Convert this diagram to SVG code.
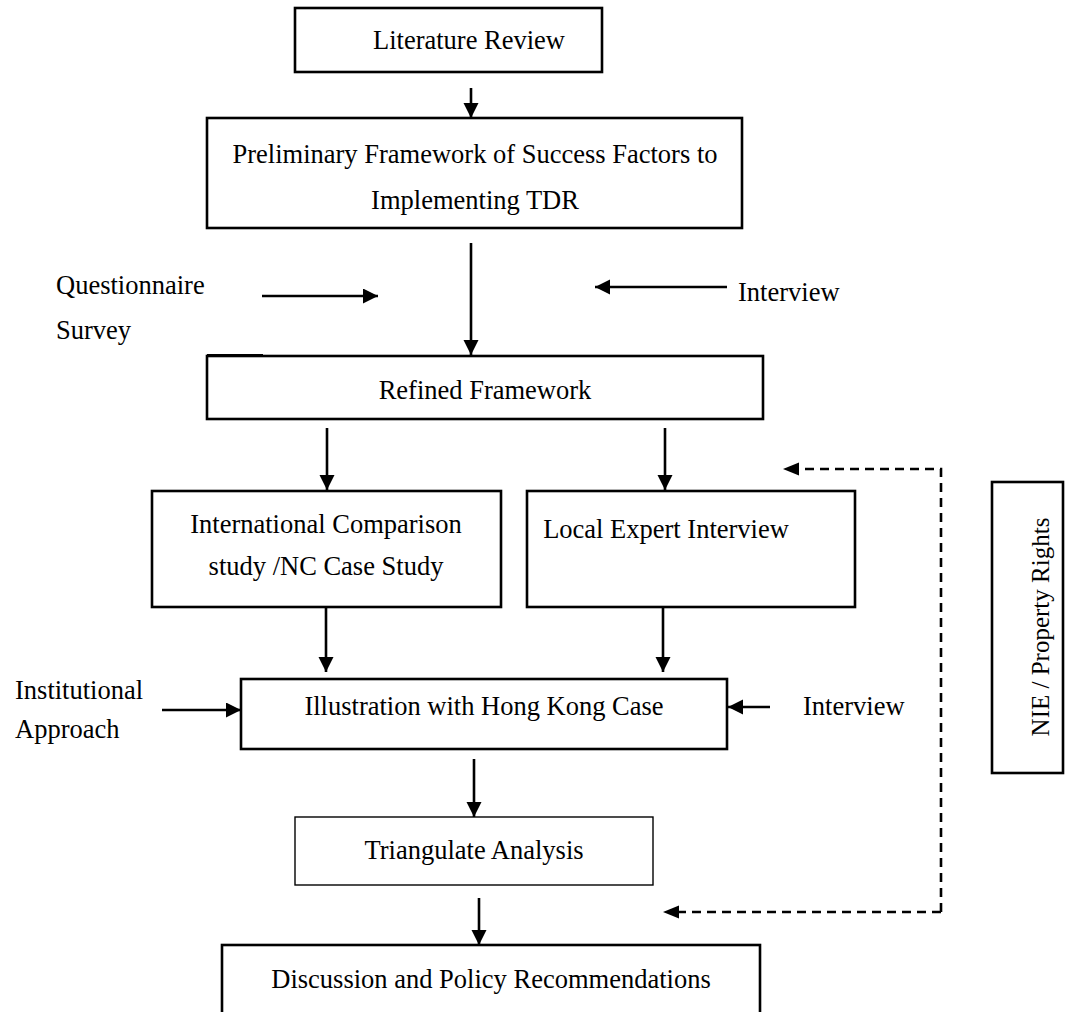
<svg xmlns="http://www.w3.org/2000/svg" width="1065" height="1012" viewBox="0 0 1065 1012">
  <defs>
    <marker id="head" markerUnits="userSpaceOnUse" markerWidth="16" markerHeight="16" refX="15" refY="7.5" orient="auto">
      <path d="M0,0 L15,7.5 L0,15 z" fill="#000"/>
    </marker>
    <style>
      .box { fill: #fff; stroke: #000; stroke-width: 2.6; }
      .thin { fill: #fff; stroke: #000; stroke-width: 1.4; }
      .lbl { font-family: "Liberation Serif", "Times New Roman", serif; font-size: 26.5px; fill: #000; }
      .mid { text-anchor: middle; }
      .arr { stroke: #000; stroke-width: 2.6; fill: none; marker-end: url(#head); }
      .dash { stroke: #000; stroke-width: 2.6; fill: none; stroke-dasharray: 9 6; }
    </style>
  </defs>
  <rect width="1065" height="1012" fill="#fff"/>

  <!-- connectors -->
  <g id="connectors">
    <line class="arr" x1="471" y1="88" x2="471" y2="118"/>
    <line class="arr" x1="471" y1="243" x2="471" y2="355"/>
    <line class="arr" x1="262" y1="296" x2="378" y2="296"/>
    <line class="arr" x1="727" y1="287" x2="595" y2="287"/>
    <line class="arr" x1="327" y1="428" x2="327" y2="490"/>
    <line class="arr" x1="665" y1="428" x2="665" y2="490"/>
    <line class="arr" x1="326" y1="608" x2="326" y2="672"/>
    <line class="arr" x1="663" y1="608" x2="663" y2="672"/>
    <line class="arr" x1="162" y1="710" x2="241" y2="710"/>
    <line class="arr" x1="770" y1="707" x2="728" y2="707"/>
    <line class="arr" x1="474" y1="759" x2="474" y2="817"/>
    <line class="arr" x1="479" y1="898" x2="479" y2="945"/>
    <!-- dashed feedback loop -->
    <polyline class="dash" points="941,912 941,469 798,469"/>
    <polyline class="dash" points="941,912 678,912"/>
    <path d="M783,469 L799,462.5 L799,475.5 z" fill="#000"/>
    <path d="M663,912 L679,905.5 L679,918.5 z" fill="#000"/>
  </g>

  <g id="literature-review">
    <rect class="box" x="295" y="8" width="307" height="64"/>
    <text class="lbl mid" x="469" y="49">Literature Review</text>
  </g>

  <g id="preliminary-framework">
    <rect class="box" x="207" y="118" width="535" height="110"/>
    <text class="lbl mid" x="475" y="163">Preliminary Framework of Success Factors to</text>
    <text class="lbl mid" x="475" y="209">Implementing TDR</text>
  </g>

  <g id="questionnaire-survey">
    <text class="lbl" x="56" y="294">Questionnaire</text>
    <text class="lbl" x="56" y="339">Survey</text>
  </g>

  <g id="interview-top">
    <text class="lbl" x="738" y="301">Interview</text>
  </g>

  <g id="refined-framework">
    <rect class="box" x="207" y="356" width="556" height="63"/>
    <line x1="207" y1="354.5" x2="263" y2="354.5" stroke="#000" stroke-width="1"/>
    <text class="lbl mid" x="485" y="399">Refined Framework</text>
  </g>

  <g id="international-comparison">
    <rect class="box" x="152" y="491" width="349" height="116"/>
    <text class="lbl mid" x="326" y="533">International Comparison</text>
    <text class="lbl mid" x="326" y="575">study /NC Case Study</text>
  </g>

  <g id="local-expert-interview">
    <rect class="box" x="527" y="491" width="328" height="116"/>
    <text class="lbl mid" x="666" y="538">Local Expert Interview</text>
  </g>

  <g id="institutional-approach">
    <text class="lbl" x="15" y="699">Institutional</text>
    <text class="lbl" x="15" y="738">Approach</text>
  </g>

  <g id="illustration-hk">
    <rect class="box" x="241" y="679" width="486" height="70"/>
    <text class="lbl mid" x="484" y="715">Illustration with Hong Kong Case</text>
  </g>

  <g id="interview-right">
    <text class="lbl" x="803" y="715">Interview</text>
  </g>

  <g id="triangulate-analysis">
    <rect class="thin" x="295" y="817" width="358" height="68"/>
    <text class="lbl mid" x="474" y="859">Triangulate Analysis</text>
  </g>

  <g id="discussion-policy">
    <rect class="box" x="222" y="945" width="538" height="80"/>
    <text class="lbl mid" x="491" y="988">Discussion and Policy Recommendations</text>
  </g>

  <g id="nie-property-rights">
    <rect class="box" x="992" y="482" width="71" height="291"/>
    <text class="lbl mid" style="font-size:25px" transform="translate(1049,627) rotate(-90)">NIE / Property Rights</text>
  </g>
</svg>
